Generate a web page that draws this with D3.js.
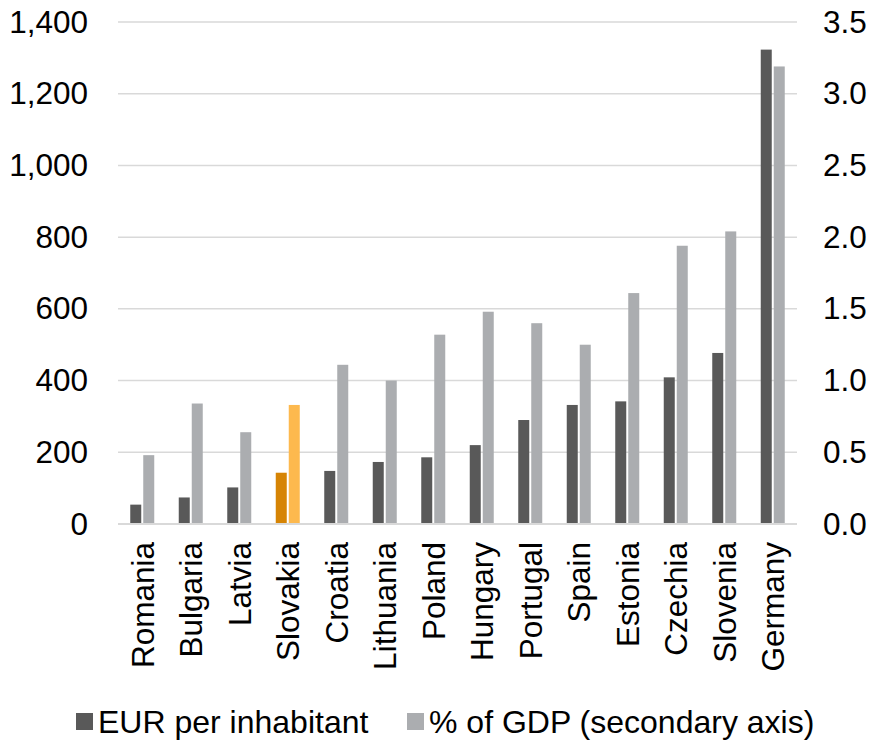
<!DOCTYPE html>
<html>
<head>
<meta charset="utf-8">
<script src="https://cdn.jsdelivr.net/npm/d3@7"></script>
<style>
html,body{margin:0;padding:0;background:#fff;}
svg{display:block;}
text{font-family:"Liberation Sans",Arial,sans-serif;fill:#000;}
</style>
</head>
<body>
<svg id="chart" width="873" height="740"></svg>
<script>
const categories = ["Romania","Bulgaria","Latvia","Slovakia","Croatia","Lithuania","Poland","Hungary","Portugal","Spain","Estonia","Czechia","Slovenia","Germany"];
const eurPerInhabitant = [54,74,102,143,148,173,186,220,290,332,342,409,477,1323];
const pctOfGDP = [0.48,0.84,0.64,0.83,1.11,1.00,1.32,1.48,1.40,1.25,1.61,1.94,2.04,3.19];
const leftTicks = [0,200,400,600,800,1000,1200,1400];
const rightTicks = [0,0.5,1.0,1.5,2.0,2.5,3.0,3.5];
const seriesNames = ["EUR per inhabitant","% of GDP (secondary axis)"];
const highlight = "Slovakia";

const colors = {dark:"#595959", light:"#ABADB0", hiDark:"#D68404", hiLight:"#FDB94E", grid:"#D9D9D9"};
const tickFont = 31.5, catFont = 31.5, legFont = 32;

const svg = d3.select("#chart");
const plot = {left:118, right:797, top:22, bottom:524};

const x = d3.scaleBand().domain(categories).range([plot.left, plot.right]).padding(0);
const yL = d3.scaleLinear().domain([0,1400]).range([plot.bottom, plot.top]);
const yR = d3.scaleLinear().domain([0,3.5]).range([plot.bottom, plot.top]);

// gridlines
svg.append("g").selectAll("line").data(leftTicks.filter(d=>d>0)).join("line")
  .attr("x1", plot.left).attr("x2", plot.right)
  .attr("y1", d=>yL(d)).attr("y2", d=>yL(d))
  .attr("stroke", colors.grid).attr("stroke-width", 1.5);

// left axis
const leftAxis = svg.append("g").attr("transform", `translate(${plot.left},0)`)
  .call(d3.axisLeft(yL).tickValues(leftTicks).tickFormat(d3.format(",")).tickSize(0).tickPadding(30));
leftAxis.select(".domain").remove();
leftAxis.selectAll("text").attr("font-size", tickFont).attr("font-family","Liberation Sans, Arial, sans-serif").attr("fill","#000");

// right axis
const rightAxis = svg.append("g").attr("transform", `translate(${plot.right},0)`)
  .call(d3.axisRight(yR).tickValues(rightTicks).tickFormat(d3.format(".1f")).tickSize(0).tickPadding(26));
rightAxis.select(".domain").remove();
rightAxis.selectAll("text").attr("font-size", tickFont).attr("font-family","Liberation Sans, Arial, sans-serif").attr("fill","#000");

// bars
const barW = 11, gap = 2;
const g = svg.append("g");
g.selectAll("rect.eur").data(categories).join("rect").attr("class","eur")
  .attr("x", d => x(d) + x.bandwidth()/2 - gap/2 - barW)
  .attr("width", barW)
  .attr("y", (d,i) => yL(eurPerInhabitant[i]))
  .attr("height", (d,i) => yL(0) - yL(eurPerInhabitant[i]))
  .attr("fill", d => d === highlight ? colors.hiDark : colors.dark);
g.selectAll("rect.gdp").data(categories).join("rect").attr("class","gdp")
  .attr("x", d => x(d) + x.bandwidth()/2 + gap/2)
  .attr("width", barW)
  .attr("y", (d,i) => yR(pctOfGDP[i]))
  .attr("height", (d,i) => yR(0) - yR(pctOfGDP[i]))
  .attr("fill", d => d === highlight ? colors.hiLight : colors.light);

// baseline
svg.append("line").attr("x1", plot.left).attr("x2", plot.right)
  .attr("y1", yL(0)).attr("y2", yL(0)).attr("stroke", colors.grid).attr("stroke-width", 2);

// category labels
const xAxis = svg.append("g").attr("transform", `translate(0,${plot.bottom})`)
  .call(d3.axisBottom(x).tickSize(0).tickPadding(0));
xAxis.select(".domain").remove();
xAxis.selectAll("text")
  .attr("font-size", catFont).attr("font-family","Liberation Sans, Arial, sans-serif").attr("fill","#000")
  .attr("text-anchor","end")
  .attr("transform","rotate(-90)")
  .attr("x", -18).attr("y", 0).attr("dy","0.36em");

// legend
const legend = svg.append("g");
const legItems = [
  {name: seriesNames[0], color: colors.dark, sx: 76},
  {name: seriesNames[1], color: colors.light, sx: 407}
];
legItems.forEach(it => {
  legend.append("rect").attr("x", it.sx).attr("y", 713).attr("width", 17).attr("height", 17).attr("fill", it.color);
  legend.append("text").attr("x", it.sx + 22).attr("y", 733).attr("font-size", legFont).text(it.name);
});
</script>
</body>
</html>
